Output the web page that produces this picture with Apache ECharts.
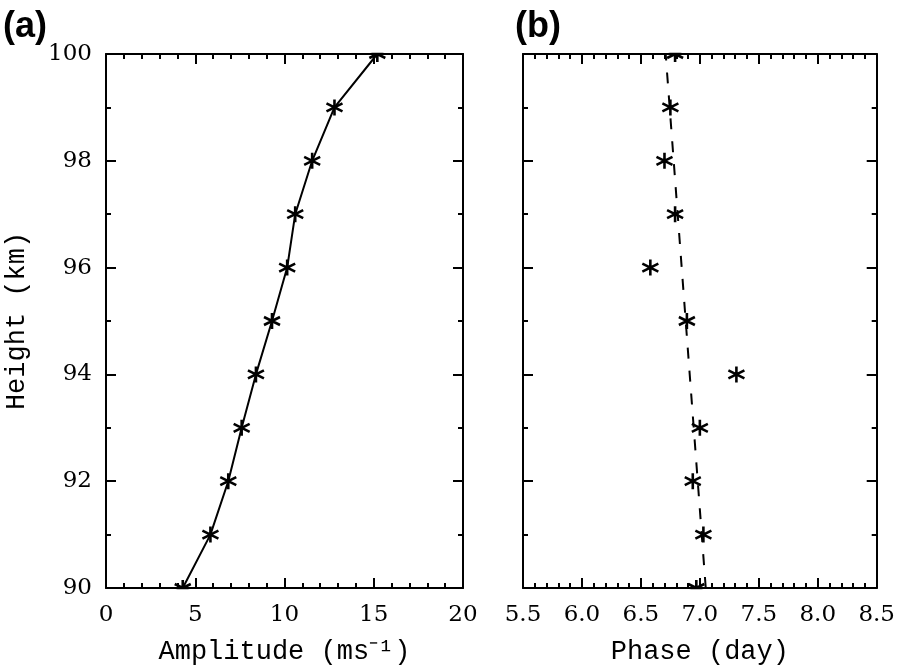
<!DOCTYPE html>
<html><head><meta charset="utf-8">
<script src="https://cdn.jsdelivr.net/npm/echarts@6/dist/echarts.min.js"></script>
<style>html,body{margin:0;padding:0;background:#fff}#c{width:898px;height:670px}</style>
</head><body><div id="c"></div>
<script>
// Panel (a): amplitude vs height
var heights = [90, 91, 92, 93, 94, 95, 96, 97, 98, 99, 100];
var amplitude = [4.3, 5.85, 6.85, 7.6, 8.4, 9.3, 10.15, 10.6, 11.55, 12.8, 15.2];
// Panel (b): phase vs height
var phase = [6.97, 7.03, 6.94, 7.0, 7.31, 6.89, 6.58, 6.79, 6.70, 6.75, 6.79];
// fitted dashed line endpoints
var fitHeight = [90, 100];
var fitPhase = [7.05, 6.71];

var ampTicks = [0, 5, 10, 15, 20];
var phaseTicks = [5.5, 6.0, 6.5, 7.0, 7.5, 8.0, 8.5];
var heightTicks = [90, 92, 94, 96, 98, 100];

var FONT = 'DejaVu Serif';
var NAMEFONT = 'Liberation Mono';
var star = 'path://M0,-10L0,10M-8.66,-5L8.66,5M-8.66,5L8.66,-5';

function pairs(xs, ys) { return xs.map(function (x, i) { return [x, ys[i]]; }); }

function xAx(grid, pos, min, max, interval, showLabel, name, fmt) {
  return {
    type: 'value', gridIndex: grid, position: pos, min: min, max: max, interval: interval,
    axisLine: { show: true, onZero: false, lineStyle: { color: '#000', width: 2 } },
    axisTick: { show: true, inside: true, length: 10, lineStyle: { color: '#000', width: 2 } },
    minorTick: { show: true, splitNumber: 5, length: 5, lineStyle: { color: '#000', width: 2 } },
    splitLine: { show: false },
    axisLabel: { show: showLabel, color: '#000', fontFamily: FONT, fontSize: 23, margin: 16, formatter: fmt },
    name: name, nameLocation: 'middle', nameGap: 50,
    nameTextStyle: { color: '#000', fontFamily: NAMEFONT, fontSize: 27 }
  };
}
function yAx(grid, pos, showLabel, name) {
  return {
    type: 'value', gridIndex: grid, position: pos, min: heightTicks[0], max: heightTicks[heightTicks.length - 1], interval: 2,
    axisLine: { show: true, onZero: false, lineStyle: { color: '#000', width: 2 } },
    axisTick: { show: true, inside: true, length: 10, lineStyle: { color: '#000', width: 2 } },
    minorTick: { show: true, splitNumber: 2, length: 5, lineStyle: { color: '#000', width: 2 } },
    splitLine: { show: false },
    axisLabel: { show: showLabel, color: '#000', fontFamily: FONT, fontSize: 23, margin: 14 },
    name: name, nameLocation: 'middle', nameGap: 76,
    nameTextStyle: { color: '#000', fontFamily: NAMEFONT, fontSize: 27 }
  };
}

var chart = echarts.init(document.getElementById('c'), null, { renderer: 'canvas' });
chart.setOption({
  animation: false,
  backgroundColor: '#fff',
  title: [
    { text: '(a)', left: -2, top: 4, z: 10, textStyle: { fontFamily: 'Liberation Sans', fontWeight: 'bold', fontSize: 36, color: '#000' } },
    { text: '(b)', left: 510, top: 4, z: 10, textStyle: { fontFamily: 'Liberation Sans', fontWeight: 'bold', fontSize: 36, color: '#000' } }
  ],
  grid: [
    { left: 106, right: 435, top: 54, bottom: 82 },
    { left: 523, right: 18, top: 54, bottom: 82 }
  ],
  // white masks so markers sitting on the frame are clipped like the original
  graphic: [
    { type: 'rect', z: 5, silent: true, shape: { x: 100, y: 40, width: 370, height: 12.8 }, style: { fill: '#fff' } },
    { type: 'rect', z: 5, silent: true, shape: { x: 517, y: 40, width: 370, height: 12.8 }, style: { fill: '#fff' } },
    { type: 'rect', z: 5, silent: true, shape: { x: 100, y: 589.2, width: 370, height: 10 }, style: { fill: '#fff' } },
    { type: 'rect', z: 5, silent: true, shape: { x: 517, y: 589.2, width: 370, height: 10 }, style: { fill: '#fff' } }
  ],
  xAxis: [
    xAx(0, 'bottom', ampTicks[0], ampTicks[ampTicks.length - 1], 5, true, 'Amplitude (ms\u207B\u00B9)', function (v) { return String(v); }),
    xAx(0, 'top', ampTicks[0], ampTicks[ampTicks.length - 1], 5, false, '', null),
    xAx(1, 'bottom', phaseTicks[0], phaseTicks[phaseTicks.length - 1], 0.5, true, 'Phase (day)', function (v) { return v.toFixed(1); }),
    xAx(1, 'top', phaseTicks[0], phaseTicks[phaseTicks.length - 1], 0.5, false, '', null)
  ],
  yAxis: [
    yAx(0, 'left', true, 'Height (km)'),
    yAx(0, 'right', false, ''),
    yAx(1, 'left', false, ''),
    yAx(1, 'right', false, '')
  ],
  series: [
    {
      type: 'line', xAxisIndex: 0, yAxisIndex: 0, data: pairs(amplitude, heights),
      lineStyle: { color: '#000', width: 2 },
      symbol: star, symbolSize: 16, showAllSymbol: true,
      itemStyle: { color: '#000', borderColor: '#000', borderWidth: 2.6, opacity: 1 }
    },
    {
      type: 'line', xAxisIndex: 2, yAxisIndex: 2, data: pairs(fitPhase, fitHeight),
      lineStyle: { color: '#000', width: 2, type: [11, 12] }, symbol: 'none'
    },
    {
      type: 'scatter', xAxisIndex: 2, yAxisIndex: 2, data: pairs(phase, heights),
      symbol: star, symbolSize: 16,
      itemStyle: { color: '#000', borderColor: '#000', borderWidth: 2.6, opacity: 1 }
    }
  ]
});
</script></body></html>
